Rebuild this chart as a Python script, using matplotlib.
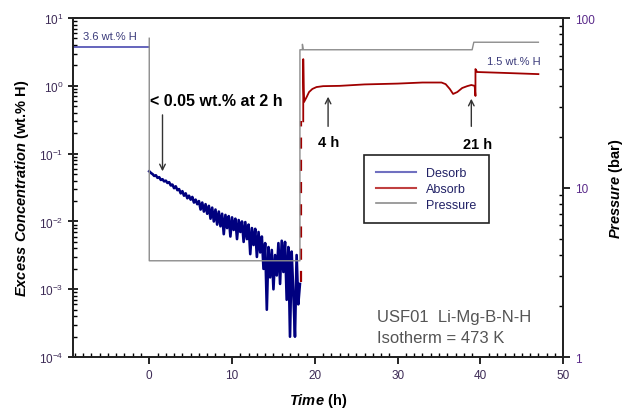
import numpy as np
import matplotlib
matplotlib.use('Agg')
from matplotlib import pyplot as plt
from matplotlib.lines import Line2D
from matplotlib.ticker import LogLocator, MultipleLocator, NullFormatter

plt.rcParams['font.family'] = ['Liberation Sans', 'DejaVu Sans']
plt.rcParams['mathtext.fontset'] = 'custom'
plt.rcParams['mathtext.rm'] = 'Liberation Sans'
plt.rcParams['mathtext.bfit'] = 'Liberation Sans:italic:bold'

# desorption before the pressure drop (wt.% H)
pre_t = [-9.2, 0.0]
pre_c = [3.8, 3.8]

# desorption trace after t = 0, one value every 0.2 h (wt.% H)
desorb_c = [0.055, 0.052, 0.050, 0.047, 0.048, 0.044, 0.045, 0.041, 0.042, 0.039,
            0.040, 0.037, 0.038, 0.034, 0.035, 0.031, 0.033, 0.029, 0.030, 0.026,
            0.028, 0.024, 0.026, 0.022, 0.024, 0.021, 0.023, 0.019, 0.021, 0.018,
            0.020, 0.015, 0.019, 0.014, 0.018, 0.013, 0.017, 0.011, 0.016, 0.010,
            0.015, 0.009, 0.014, 0.0085, 0.013, 0.0065, 0.0125, 0.008, 0.012, 0.006,
            0.0115, 0.0075, 0.011, 0.0055, 0.0105, 0.007, 0.0100, 0.005, 0.0098, 0.0055,
            0.009, 0.0033, 0.008, 0.0045, 0.0078, 0.003, 0.007, 0.0035, 0.006, 0.002,
            0.0048, 0.0005, 0.0042, 0.0015, 0.0038, 0.001, 0.0032, 0.0016, 0.0048, 0.0012,
            0.0052, 0.0018, 0.005, 0.0007, 0.0042, 0.0002, 0.0036, 0.0009, 0.0002, 0.0032,
            0.0006, 0.0012]
desorb_t = np.round(np.arange(len(desorb_c)) * 0.2, 1)

# absorption: first rise (drawn dashed) then the main trace
rise_t = [18.3, 18.3]
rise_c = [0.0013, 0.3]
absorb_t = [18.6, 18.6, 18.65, 18.7, 19.0, 19.3, 19.7, 20.2, 21.0, 23.0, 26.0, 30.0,
            33.0, 35.3, 35.8, 36.3, 36.7, 37.2, 37.8, 38.4, 38.9, 39.3, 39.4, 39.4,
            39.6, 43.0, 47.0]
absorb_c = [0.3, 2.48, 0.9, 0.58, 0.68, 0.81, 0.90, 0.96, 0.99, 1.0, 1.05, 1.08,
            1.12, 1.12, 1.06, 0.90, 0.76, 0.81, 0.93, 0.99, 1.03, 1.0, 0.71, 1.77,
            1.6, 1.55, 1.49]

# pressure (bar)
press_t = [0.0, 0.0, 18.2, 18.2, 18.5, 18.5, 18.6, 39.0, 39.2, 47.0]
press_p = [76.0, 3.7, 3.7, 65.0, 65.0, 70.0, 65.0, 65.0, 72.0, 72.0]

tick_col = '#3d2b56'
blue = '#00007f'
red = '#a00000'
grey = '#8c8c8c'

fig = plt.figure(figsize=(6.3, 4.14), dpi=100)
ax = fig.add_axes([0.116, 0.135, 0.778, 0.819])
ax.set_yscale('log')
ax.set_xlim(-9.2, 50)
ax.set_ylim(1e-4, 10)

ax.plot(pre_t, pre_c, color='#4a4ab0', lw=1.2)
ax.plot(desorb_t, desorb_c, color=blue, lw=1.9)
ax.plot(rise_t, rise_c, color=red, lw=1.6, dashes=(5, 5))
ax.plot(absorb_t, absorb_c, color=red, lw=1.3)

ax2 = ax.twinx()
ax2.set_yscale('log')
ax2.set_ylim(1, 100)
ax2.plot(press_t, press_p, color=grey, lw=1.0)

ax.xaxis.set_major_locator(MultipleLocator(10))
ax.xaxis.set_minor_locator(MultipleLocator(1))
ax.yaxis.set_major_locator(LogLocator(base=10, numticks=10))
ax.yaxis.set_minor_locator(LogLocator(base=10, subs=np.arange(2, 10), numticks=20))
ax.yaxis.set_minor_formatter(NullFormatter())
ax2.yaxis.set_minor_locator(LogLocator(base=10, subs=np.arange(2, 10), numticks=20))
ax2.yaxis.set_minor_formatter(NullFormatter())
ax2.set_yticks([1, 10, 100])
ax2.set_yticklabels(['1', '10', '100'])

for a in (ax, ax2):
    a.tick_params(which='major', direction='out', length=5, width=1.2,
                  labelsize=8.5, labelcolor=tick_col)
    a.tick_params(which='minor', direction='in', length=3, width=1)
    for s in a.spines.values():
        s.set_linewidth(1.3)
        s.set_color('#222222')
ax.tick_params(axis='y', which='major', direction='inout', length=7)
ax2.tick_params(axis='y', labelcolor='#5a2a8a')

ax.set_xlabel(r'$\mathbfit{Time}$ (h)', fontsize=10.5, fontweight='bold', labelpad=7)
ax.set_ylabel(r'$\mathbfit{Excess\ Concentration}$ (wt.% H)', fontsize=10.5,
              fontweight='bold', labelpad=6)
ax2.set_ylabel(r'$\mathbfit{Pressure}$ (bar)', fontsize=10.5, fontweight='bold')
ax2.yaxis.set_label_coords(1.09, 0.5)

ax.text(-8.0, 5.4, '3.6 wt.% H', fontsize=8, color='#3a3a7a', va='center')
ax.text(44.0, 2.32, '1.5 wt.% H', fontsize=8, color='#3a3a7a', va='center', ha='center')
ax.text(0.1, 0.60, '< 0.05 wt.% at 2 h', fontsize=11.5, fontweight='bold', va='center')
ax.annotate('', xy=(1.6, 0.05), xytext=(1.6, 0.41),
            arrowprops=dict(arrowstyle='->', color='#333333', lw=1.0))
ax.text(21.7, 0.148, '4 h', fontsize=10.5, fontweight='bold', va='center', ha='center')
ax.annotate('', xy=(21.6, 0.76), xytext=(21.6, 0.23),
            arrowprops=dict(arrowstyle='->', color='#333333', lw=1.0))
ax.text(39.6, 0.139, '21 h', fontsize=10.5, fontweight='bold', va='center', ha='center')
ax.annotate('', xy=(38.9, 0.71), xytext=(38.9, 0.23),
            arrowprops=dict(arrowstyle='->', color='#333333', lw=1.0))
ax.text(27.5, 4.0e-4, 'USF01  Li-Mg-B-N-H', fontsize=12, color='#555555', va='center')
ax.text(27.5, 1.97e-4, 'Isotherm = 473 K', fontsize=12, color='#555555', va='center')

handles = [Line2D([], [], color='#7070c0', lw=1.5),
           Line2D([], [], color='#c04040', lw=1.5),
           Line2D([], [], color=grey, lw=1.2)]
leg = ax2.legend(handles, ['Desorb', 'Absorb', 'Pressure'], loc='upper left',
                 bbox_to_anchor=(0.58, 0.615), fontsize=9, fancybox=False,
                 edgecolor='#222222', framealpha=1, handlelength=3.2,
                 labelspacing=0.3, borderpad=1.0, labelcolor='#222266')
leg.get_frame().set_linewidth(1.2)

fig.savefig('out.png', dpi=100)
